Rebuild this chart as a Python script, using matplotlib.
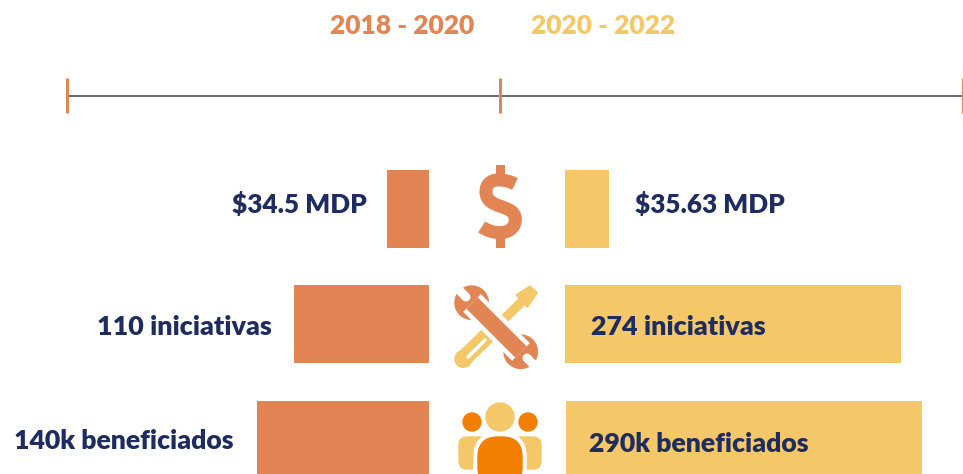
import matplotlib
matplotlib.use('Agg')
import matplotlib.pyplot as plt
from matplotlib.patches import Circle, FancyBboxPatch, PathPatch, Polygon
from matplotlib.path import Path

# values
periods = ['2018 - 2020', '2020 - 2022']
left_values = [34.5, 110, 140]
right_values = [35.63, 274, 290]
left_labels = ['$34.5 MDP', '110 iniciativas', '140k beneficiados']
right_labels = ['$35.63 MDP', '274 iniciativas', '290k beneficiados']

ORANGE = '#E28555'
YELLOW = '#F4C868'
DARK_ORANGE = '#F27F00'
NAVY = '#1F2C5F'
GREY = '#6D6D6D'
PX = 0.72  # one pixel in points at dpi 100
SCALE = 1.228  # pixels per unit of bar

plt.rcParams['font.family'] = ['Lato', 'DejaVu Sans']

fig = plt.figure(figsize=(9.63, 4.74), dpi=100)
ax = fig.add_axes([0, 0, 1, 1])
ax.set_xlim(0, 963)
ax.set_ylim(474, 0)
ax.axis('off')

# header and timeline
ax.text(402, 26, periods[0], color=ORANGE, fontsize=19, fontweight='heavy', ha='center', va='center')
ax.text(603, 26, periods[1], color=YELLOW, fontsize=19, fontweight='heavy', ha='center', va='center')
ax.plot([67, 963], [96, 96], color=GREY, lw=2 * PX, solid_capstyle='butt')
for x in [66.5, 499.5, 962.5]:
    ax.plot([x, x], [78, 113], color=ORANGE, lw=3 * PX, solid_capstyle='butt')

# bars
row_y = [209, 324, 440]
row_h = [78, 78, 78]
right_start = [565, 565, 566]
for i in range(3):
    ax.barh(row_y[i], -left_values[i] * SCALE, height=row_h[i], left=429, color=ORANGE)
    ax.barh(row_y[i], right_values[i] * SCALE, height=row_h[i], left=right_start[i], color=YELLOW)

# labels
left_x = [367, 272, 234]
right_x = [635, 591, 589]
label_y = [205, 327, 441]
right_y = [205, 327, 444]
label_size = [18.8, 19.4, 19.2]
for i in range(3):
    ax.text(left_x[i], label_y[i], left_labels[i], color=NAVY, fontsize=label_size[i], fontweight='heavy',
            ha='right', va='center')
    ax.text(right_x[i], right_y[i], right_labels[i], color=NAVY, fontsize=label_size[i], fontweight='heavy',
            ha='left', va='center')


# dollar icon, coordinates taken from a 3x crop that starts at (440, 160)
def crop(x, y):
    return (440 + x / 3, 160 + y / 3)


s_pts = [(225, 72), (205, 62), (190, 60), (175, 60), (150, 60), (138, 75), (138, 95),
         (138, 150), (226, 130), (226, 178), (226, 205), (205, 218), (178, 218),
         (160, 218), (140, 211), (125, 201)]
s_codes = [Path.MOVETO] + [Path.CURVE4] * 15
ax.add_patch(PathPatch(Path([crop(*p) for p in s_pts], s_codes), facecolor='none',
                       edgecolor=ORANGE, lw=13 * PX, capstyle='butt'))
ax.plot(*zip(crop(179, 26), crop(179, 60)), color=ORANGE, lw=9 * PX, solid_capstyle='projecting')
ax.plot(*zip(crop(179, 215), crop(179, 250)), color=ORANGE, lw=9 * PX, solid_capstyle='projecting')

# tools icon: screwdriver
ax.add_patch(Circle((463.3, 359), 8.3, color=YELLOW))
ax.plot([463.3, 488], [359, 335], color=YELLOW, lw=16.6 * PX, solid_capstyle='butt')
ax.plot([468, 485], [357, 340], color='white', lw=3.5 * PX, solid_capstyle='round')
ax.plot([505, 521.7], [318.3, 301.7], color=YELLOW, lw=9.4 * PX, solid_capstyle='butt')
ax.add_patch(Polygon([[516, 295], [530, 286], [537.3, 292.7], [527.3, 307.3]], color=YELLOW))

# tools icon: wrench
ax.plot([472, 521], [303, 352], color='white', lw=25 * PX, solid_capstyle='butt')
ax.plot([472, 521], [303, 352], color=ORANGE, lw=16 * PX, solid_capstyle='butt')
ax.add_patch(Circle((471.7, 302.7), 16.7, color=ORANGE))
ax.add_patch(Circle((520.7, 351.7), 16.7, color=ORANGE))
ax.plot([455, 466], [286, 297], color='white', lw=9 * PX, solid_capstyle='round')
ax.plot([538, 527], [369, 358], color='white', lw=9 * PX, solid_capstyle='round')

# people icon
ax.add_patch(Circle((500, 417), 14, color=YELLOW))
ax.add_patch(Circle((472, 422), 9, color=DARK_ORANGE))
ax.add_patch(Circle((528, 422), 9, color=DARK_ORANGE))
ax.add_patch(FancyBboxPatch((463, 441), 34, 24, boxstyle='round,pad=4,rounding_size=8', color=YELLOW))
ax.add_patch(FancyBboxPatch((503, 441), 34, 24, boxstyle='round,pad=4,rounding_size=8', color=YELLOW))
ax.add_patch(FancyBboxPatch((474, 433), 52, 60, boxstyle='round,pad=0,rounding_size=24', color='white'))
ax.add_patch(FancyBboxPatch((478, 437), 44, 50, boxstyle='round,pad=0,rounding_size=20', color=DARK_ORANGE))

fig.savefig('out.png', dpi=100)
